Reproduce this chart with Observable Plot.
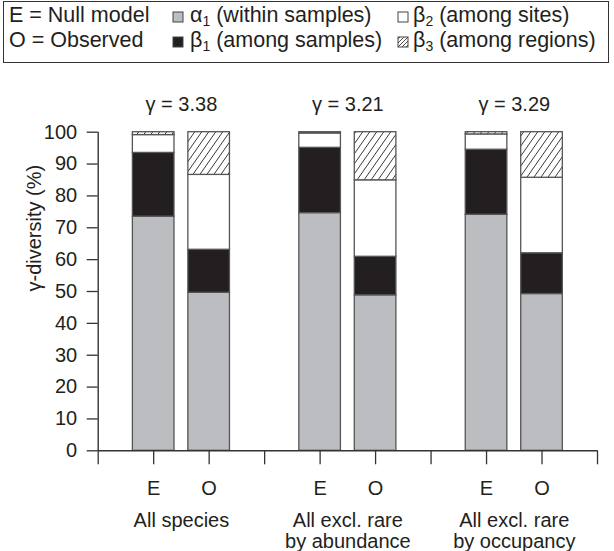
<!DOCTYPE html>
<html>
<head>
<meta charset="utf-8">
<script src="https://cdn.jsdelivr.net/npm/d3@7"></script>
<script src="https://cdn.jsdelivr.net/npm/@observablehq/plot@0.6"></script>
<style>
  body { margin: 0; background: #fff; width: 614px; height: 551px; overflow: hidden; }
  #legend { position: relative; width: 614px; height: 70px; font-family: "Liberation Sans", Arial, Helvetica, sans-serif; font-size: 21.5px; color: #231f20; }
  #legend .box { position: absolute; left: 3px; top: 1px; width: 604px; height: 60px; border: 1.5px solid #333; }
  #legend .item { position: absolute; white-space: nowrap; line-height: 1; }
  #legend svg.sw { position: absolute; }
  #legend sub { font-size: 14px; vertical-align: -4px; line-height: 0; }
</style>
</head>
<body>
<div id="legend"></div>
<div id="chart"></div>
<script>
// ---- data ----
const groups = ["All species", "All excl. rare\nby abundance", "All excl. rare\nby occupancy"];
const conditions = ["E", "O"];
const gammaValues = [3.38, 3.21, 3.29];
// per bar, order: group1 E, group1 O, group2 E, group2 O, group3 E, group3 O
const alpha1 = [73.5, 49.6, 74.6, 48.8, 74.1, 49.2];
const beta1  = [20.0, 13.5, 20.5, 12.1, 20.4, 12.8];
const beta2  = [ 5.6, 23.5,  4.5, 24.0,  4.8, 23.7];
const beta3  = [ 0.9, 13.4,  0.4, 15.1,  0.7, 14.3];
const componentNames = ["alpha1", "beta1", "beta2", "beta3"];
const componentValues = [alpha1, beta1, beta2, beta3];
const yTicks = [0, 10, 20, 30, 40, 50, 60, 70, 80, 90, 100];
const yLabel = "γ-diversity (%)";

const fills = { alpha1: "#bcbdc1", beta1: "#231f20", beta2: "#ffffff", beta3: "url(#hatch)" };
const font = "'Liberation Sans', Arial, Helvetica, sans-serif";
const ink = "#231f20";

// ---- build table ----
const bars = [];
groups.forEach((g, gi) => {
  conditions.forEach((c, ci) => {
    const idx = gi * 2 + ci;
    const pos = gi * 3 + ci + 1;
    let cum = 0;
    componentNames.forEach((name, k) => {
      const v = componentValues[k][idx];
      bars.push({ group: g, condition: c, pos, component: name, y1: cum, y2: cum + v });
      cum += v;
    });
  });
});
const groupData = groups.map((g, gi) => ({ label: g, center: gi * 3 + 1.5, gamma: gammaValues[gi] }));
const xTicks = d3.range(0, groups.length * 3 + 1);
const tickLabel = d => (d % 3 === 0 ? "" : conditions[(d % 3) - 1]);
const half = 0.375;

const chart = Plot.plot({
  width: 614,
  height: 481,
  marginTop: 61.7,
  marginBottom: 100.7,
  marginLeft: 97.7,
  marginRight: 17,
  style: { fontFamily: font, fontSize: "20px", color: ink, background: "white" },
  x: { domain: [0, groups.length * 3], axis: null },
  y: { domain: [0, 100], axis: null },
  marks: [
    Plot.rectY(bars, {
      x1: d => d.pos - half, x2: d => d.pos + half,
      y1: "y1", y2: "y2",
      fill: d => fills[d.component],
      stroke: "#555", strokeWidth: 1.3
    }),
    Plot.ruleX([0], { y1: 0, y2: 100, stroke: "#333", strokeWidth: 1.4 }),
    Plot.ruleY([0], { x1: 0, x2: groups.length * 3, stroke: "#333", strokeWidth: 1.4 }),
    Plot.axisY({ ticks: yTicks, label: null, tickSize: 11, tickPadding: 10, stroke: "#333", strokeWidth: 1.3, fill: ink }),
    Plot.axisX({ ticks: xTicks, label: null, tickSize: 14, tickPadding: 16, tickFormat: tickLabel, stroke: "#333", strokeWidth: 1.3, fill: ink }),
    Plot.text(groupData, { x: "center", y: 0, text: "label", lineAnchor: "top", dy: 61.4, lineHeight: 1.05, fill: ink }),
    Plot.text(groupData, { x: "center", y: 100, text: d => "γ = " + d.gamma.toFixed(2), dy: -27.7, fill: ink }),
    Plot.text([yLabel], { frameAnchor: "left", text: d => d, rotate: -90, dx: -64, fill: ink })
  ]
});

// hatch pattern
const defs = d3.select(chart).insert("defs", ":first-child");
const pat = defs.append("pattern").attr("id", "hatch").attr("patternUnits", "userSpaceOnUse")
  .attr("width", 7).attr("height", 10);
pat.append("rect").attr("width", 7).attr("height", 10).attr("fill", "white");
[[-7, 0], [0, 7], [7, 14]].forEach(([a, b]) =>
  pat.append("line").attr("x1", a).attr("y1", 10).attr("x2", b).attr("y2", 0)
    .attr("stroke", ink).attr("stroke-width", 0.9));
document.getElementById("chart").appendChild(chart);

// ---- legend ----
const legendRows = [
  { key: "E = Null model", items: [
      { comp: "alpha1", html: "α<sub>1</sub> (within samples)" },
      { comp: "beta2", html: "β<sub>2</sub> (among sites)" } ] },
  { key: "O = Observed", items: [
      { comp: "beta1", html: "β<sub>1</sub> (among samples)" },
      { comp: "beta3", html: "β<sub>3</sub> (among regions)" } ] }
];
const legend = document.getElementById("legend");
legend.insertAdjacentHTML("beforeend", '<div class="box"></div>');
const rowY = [5, 30];
const colSwatch = [172, 397];
const colText = [190, 413];
legendRows.forEach((row, ri) => {
  legend.insertAdjacentHTML("beforeend",
    `<div class="item" style="left:9px;top:${rowY[ri]}px">${row.key}</div>`);
  row.items.forEach((it, ii) => {
    const fill = it.comp === "beta3" ? "url(#hatchL)" : fills[it.comp];
    legend.insertAdjacentHTML("beforeend",
      `<svg class="sw" width="12" height="12" style="left:${colSwatch[ii]}px;top:${rowY[ri] + 6}px">
        <defs><pattern id="hatchL" patternUnits="userSpaceOnUse" width="4" height="4">
          <rect width="4" height="4" fill="white"/><line x1="0" y1="4" x2="4" y2="0" stroke="${ink}" stroke-width="0.8"/></pattern></defs>
        <rect x="1" y="1" width="10" height="10" fill="${fill}" stroke="#444" stroke-width="1"/></svg>`);
    legend.insertAdjacentHTML("beforeend",
      `<div class="item" style="left:${colText[ii]}px;top:${rowY[ri]}px">${it.html}</div>`);
  });
});
</script>
</body>
</html>
